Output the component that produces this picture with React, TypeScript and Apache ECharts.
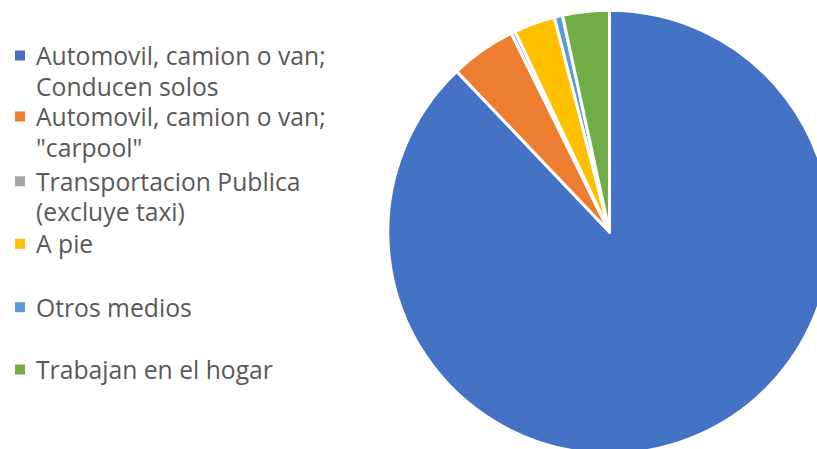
import React, { useEffect, useRef } from "react";
import * as echarts from "echarts";

const categories = [
  "Automovil, camion o van;\nConducen solos",
  "Automovil, camion o van;\n\"carpool\"",
  "Transportacion Publica\n(excluye taxi)",
  "A pie",
  "Otros medios",
  "Trabajan en el hogar",
];
const values = [87.9, 4.8, 0.3, 3.0, 0.6, 3.4];
const colors = ["#4472C4", "#ED7D31", "#A5A5A5", "#FFC000", "#5B9BD5", "#70AD47"];
const legendIconCenters = [55.5, 116.5, 181.3, 243.8, 307.2, 369.5];

const LINE_H = 30.5;

export default function App() {
  const ref = useRef<HTMLDivElement>(null);
  useEffect(() => {
    if (!ref.current) return;
    const chart = echarts.init(ref.current, undefined, { renderer: "svg" });
    const legends = categories.map((name, i) => {
      const twoLine = name.includes("\n");
      const top = legendIconCenters[i] - (twoLine ? LINE_H * 1.5 : LINE_H / 2);
      return {
        data: [name],
        left: 15,
        top,
        padding: 0,
        orient: "vertical",
        icon: "rect",
        itemWidth: 10,
        itemHeight: 10,
        selectedMode: false,
        itemStyle: { borderWidth: 0 },
        formatter: (n: string) => (n.includes("\n") ? "\n" + n : n),
        textStyle: {
          fontFamily: "Open Sans",
          fontSize: 24.7,
          color: "#595959",
          lineHeight: LINE_H,
          padding: [0, 0, 0, 6],
        },
      };
    });
    chart.setOption({
      animation: false,
      color: colors,
      legend: legends,
      series: [
        {
          type: "pie",
          center: [609.5, 232],
          radius: 221.7,
          startAngle: 90,
          clockwise: true,
          label: { show: false },
          labelLine: { show: false },
          emphasis: { disabled: true },
          itemStyle: { borderColor: "#ffffff", borderWidth: 3 },
          data: categories.map((name, i) => ({ name, value: values[i] })),
        },
      ],
    });
    return () => chart.dispose();
  }, []);
  return (
    <div
      ref={ref}
      style={{ position: "fixed", left: 0, top: 0, width: 817, height: 449, background: "#fff" }}
    />
  );
}
